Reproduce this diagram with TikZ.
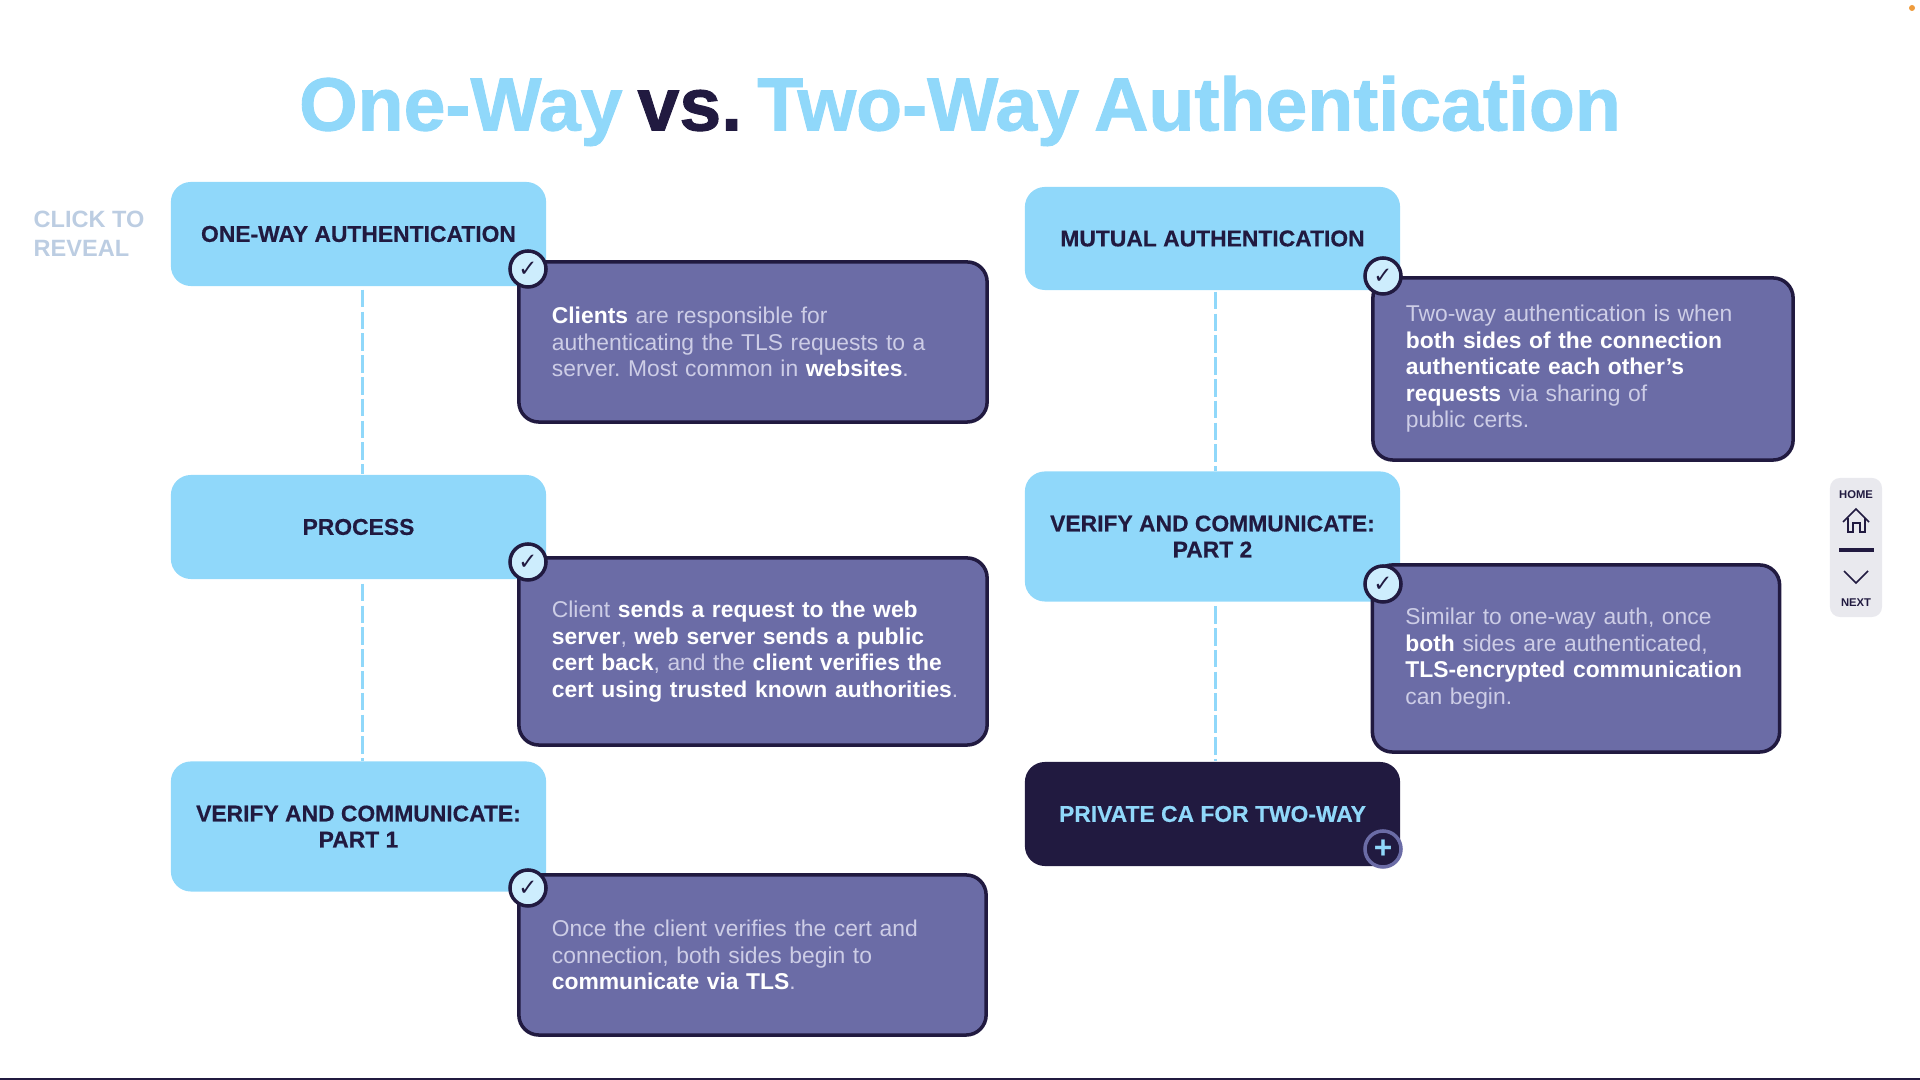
\documentclass[tikz,border=0pt]{standalone}
\usepackage{fontspec}
\setmainfont{Liberation Sans}
\newfontfamily\symfont{DejaVu Sans}
\newfontfamily\titlefont[WordSpace=0.72, BoldFeatures={FakeBold=1.2}]{Liberation Sans}
\newfontfamily\headfont[BoldFeatures={FakeBold=0.4}]{Liberation Sans}
\usepackage{xcolor}
\usetikzlibrary{positioning}
\definecolor{AuthSky}{HTML}{90D8FA}
\definecolor{AuthNavy}{HTML}{211A40}
\definecolor{AuthPurple}{HTML}{6B6CA6}
\definecolor{AuthPale}{HTML}{CDCDE6}
\definecolor{AuthHint}{HTML}{BCCDE2}
\definecolor{AuthPanel}{HTML}{E9E9EE}
\definecolor{AuthDot}{HTML}{EE9B3C}
\newcommand{\keyword}[1]{\textbf{\textcolor{white}{#1}}}
\tikzset{
    % Box styles
    headbox/.style={
        rectangle,
        rounded corners=0.2cm,
        fill=AuthSky,
        text=AuthNavy,
        minimum width=3.75cm,
        align=center,
        inner sep=0pt,
        font=\fontsize{6.5}{7.4}\selectfont\headfont\bfseries
    },
    darkbox/.style={
        headbox,
        fill=AuthNavy,
        text=AuthSky
    },
    descbox/.style={
        rectangle,
        rounded corners=0.2cm,
        draw=AuthNavy,
        fill=AuthPurple,
        text=AuthPale,
        line width=1pt,
        text width=#1,
        inner xsep=0.33cm,
        inner ysep=0pt,
        align=left,
        font=\fontsize{6.5}{7.55}\selectfont\frenchspacing
    },
    % Badge styles
    checkmark/.style={
        circle,
        draw=AuthNavy,
        fill=AuthSky!45,
        line width=1pt,
        minimum size=0.36cm,
        inner sep=0pt,
        text=AuthNavy,
        font=\fontsize{6.5}{6.5}\selectfont\symfont
    },
    plusmark/.style={
        checkmark,
        draw=AuthPurple,
        fill=AuthNavy,
        text=AuthSky,
        font=\fontsize{9}{9}\selectfont\bfseries
    },
    % Connector styles
    dashline/.style={
        draw=AuthSky,
        line width=0.8pt,
        dash pattern=on 5pt off 1.2pt
    },
    % Side panel styles
    navlabel/.style={
        text=AuthNavy,
        inner sep=0pt,
        font=\fontsize{3.2}{4}\selectfont\bfseries
    },
    navicon/.style={
        draw=AuthNavy,
        line width=0.45pt
    }
}
\begin{document}
\begin{tikzpicture}[x=0.01cm, y=-0.01cm]
    \useasboundingbox (0,0) rectangle (1920,1080);

    % Title
    \node[font=\fontsize{21.4}{24}\selectfont\titlefont\bfseries\frenchspacing, inner sep=0pt] (title) at (960,111)
        {\textcolor{AuthSky}{One-Way} \textcolor{AuthNavy}{vs.} \textcolor{AuthSky}{Two-Way Authentication}};

    % Hint
    \node[anchor=west, align=left, inner sep=0pt, text=AuthHint, font=\fontsize{6.7}{8.25}\selectfont\bfseries] (hint) at (33,233.5)
        {CLICK TO\\REVEAL};

    % Left column
    \node[headbox, minimum height=1.04cm] (oneway) at (358.5,234) {ONE-WAY AUTHENTICATION};
    \node[headbox, minimum height=1.04cm] (process) at (358.5,527) {PROCESS};
    \node[headbox, minimum height=1.3cm] (verifyone) at (358.5,826.5) {VERIFY AND COMMUNICATE:\\PART 1};

    % Right column
    \node[headbox, minimum height=1.03cm] (mutual) at (1212.5,238.5) {MUTUAL AUTHENTICATION};
    \node[headbox, minimum height=1.3cm] (verifytwo) at (1212.5,536.5) {VERIFY AND COMMUNICATE:\\PART 2};
    \node[darkbox, minimum height=1.04cm] (privateca) at (1212.5,814) {PRIVATE CA FOR TWO-WAY};

    % Dashed connectors
    \draw[dashline] ([xshift=0.04cm, yshift=-0.03cm]oneway.south) -- ([xshift=0.04cm]process.north);
    \draw[dashline] ([xshift=0.04cm, yshift=-0.04cm]process.south) -- ([xshift=0.04cm]verifyone.north);
    \draw[dashline] ([xshift=0.03cm, yshift=-0.01cm]mutual.south) -- ([xshift=0.03cm]verifytwo.north);
    \draw[dashline] ([xshift=0.03cm, yshift=-0.04cm]verifytwo.south) -- ([xshift=0.03cm]privateca.north);

    % Descriptions
    \node[descbox=4.02cm, minimum height=1.6cm] (descone) at (753,342) {
        \keyword{Clients} are responsible for\\
        authenticating the TLS requests to a\\
        server. Most common in \keyword{websites}.
    };
    \node[descbox=4.02cm, minimum height=1.87cm] (desctwo) at (753,651.5) {
        Client \keyword{sends a request to the web}\\
        \keyword{server}, \keyword{web server sends a public}\\
        \keyword{cert back}, and the \keyword{client verifies the}\\
        \mbox{\keyword{cert using trusted known authorities}.}
    };
    \node[descbox=4.01cm, minimum height=1.6cm] (descthree) at (752.5,955) {
        Once the client verifies the cert and\\
        connection, both sides begin to\\
        \keyword{communicate via TLS}.
    };
    \node[descbox=3.54cm, minimum height=1.82cm] (descfour) at (1583,369) {
        Two-way authentication is when\\
        \keyword{both sides of the connection}\\
        \keyword{authenticate each other's}\\
        \keyword{requests} via sharing of\\
        public certs.
    };
    \node[descbox=3.41cm, minimum height=1.87cm] (descfive) at (1576,658.5) {
        Similar to one-way auth, once\\
        \keyword{both} sides are authenticated,\\
        \keyword{TLS-encrypted communication}\\
        can begin.
    };

    % Badges
    \node[checkmark] (checkone) at (528,269) {✓};
    \node[checkmark] (checktwo) at (528,562) {✓};
    \node[checkmark] (checkthree) at (528,888) {✓};
    \node[checkmark] (checkfour) at (1383,276) {✓};
    \node[checkmark] (checkfive) at (1383,584) {✓};
    \node[plusmark] (plusone) at (1383,849) {+};

    % Side panel
    \node[rectangle, rounded corners=0.1cm, fill=AuthPanel, minimum width=0.52cm, minimum height=1.39cm, inner sep=0pt] (panel) at (1856,547.5) {};
    \node[navlabel] (home) at (1856,494.5) {HOME};
    \node[navlabel] (next) at (1856,602.5) {NEXT};
    \draw[navicon] (1843,522) -- (1856,509) -- (1869,522);
    \draw[navicon] (1848,518) -- (1848,532) -- (1853,532) -- (1853,523) -- (1860,523) -- (1860,532) -- (1865,532) -- (1865,518);
    \draw[draw=AuthNavy, line width=1pt] (1839,550) -- (1874,550);
    \draw[navicon] (1844,571) -- (1856,583) -- (1868,571);

    % Edge marks
    \fill[AuthDot] (1912,8) circle (0.03cm);
    \draw[draw=AuthNavy, line width=0.5pt] (0,1079) -- (1920,1079);
\end{tikzpicture}
\end{document}
